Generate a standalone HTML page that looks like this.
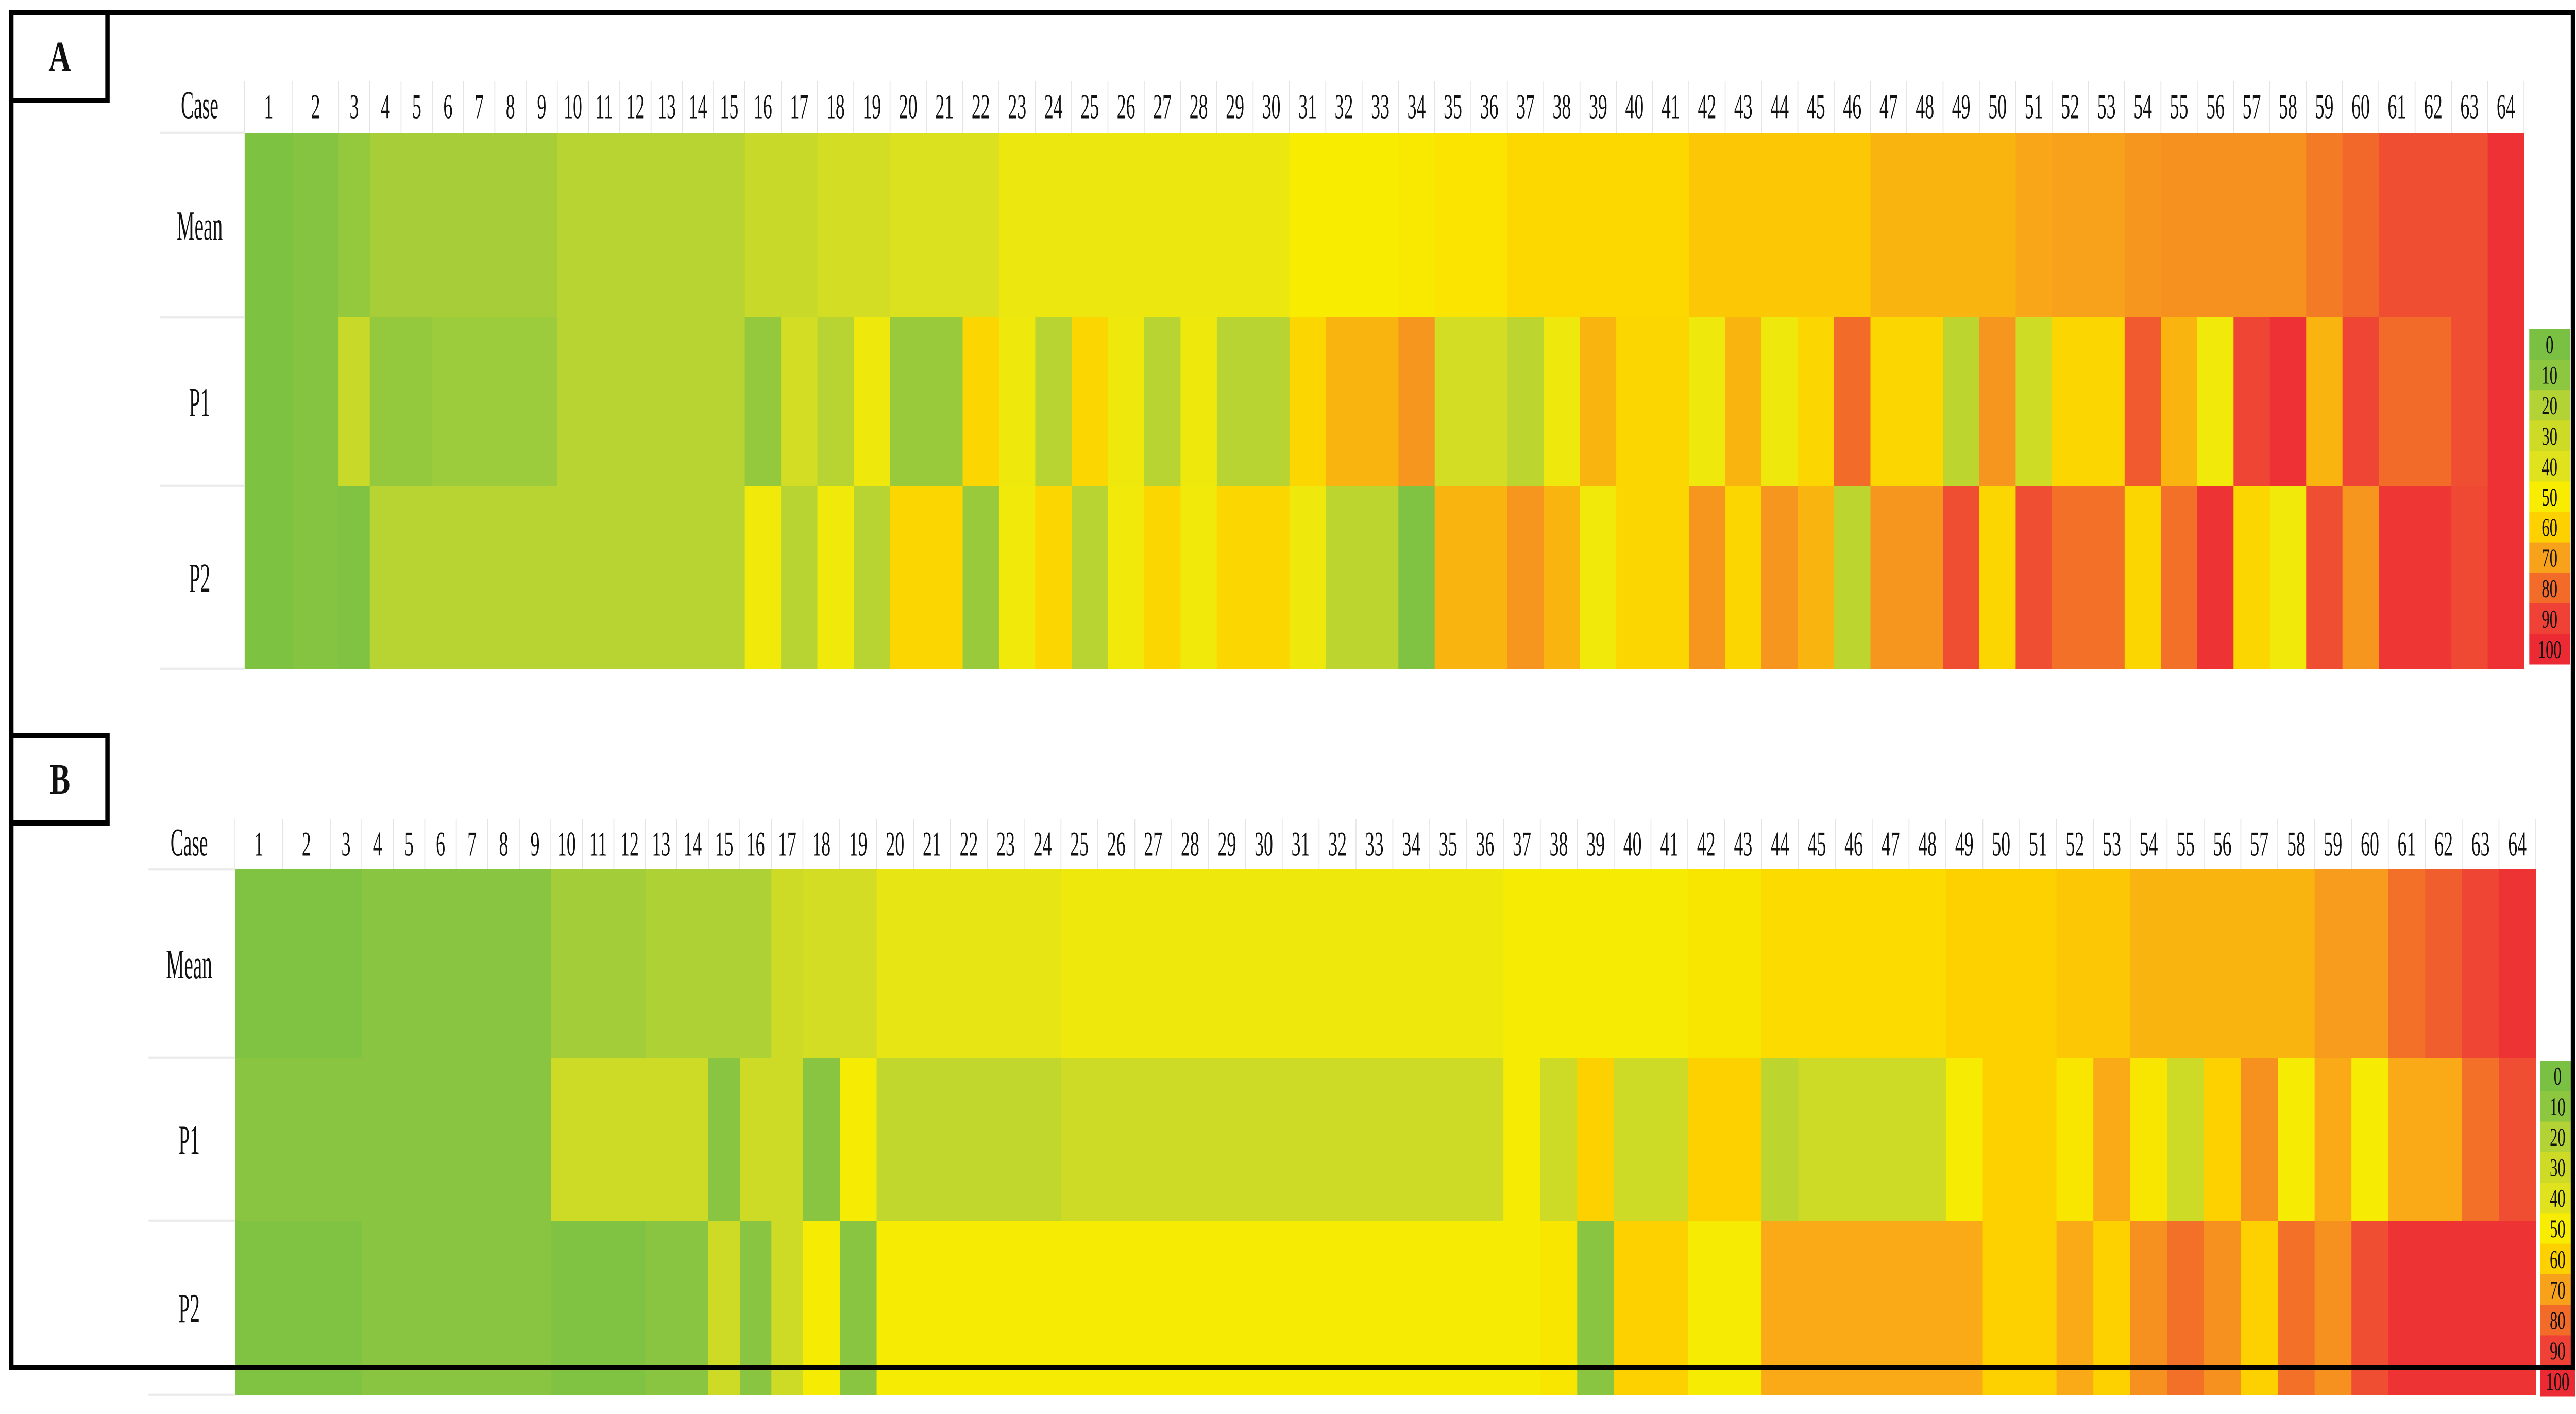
<!DOCTYPE html>
<html><head><meta charset="utf-8">
<style>
html,body{margin:0;padding:0;background:#fff;width:5897px;height:2744px;overflow:hidden;}
svg{display:block;width:100vw;height:100vh;}
text{font-family:"Liberation Serif",serif;fill:#111;}
</style></head>
<body>
<svg id="chart" viewBox="0 0 5897 2744" preserveAspectRatio="none" xmlns="http://www.w3.org/2000/svg">
<rect x="0" y="0" width="5897" height="2744" fill="#fff"/>
<g id="panels"></g>
<rect x="26" y="24" width="5864" height="2629" fill="none" stroke="#000" stroke-width="10"/>
<rect x="26" y="24" width="220" height="171" fill="#fff" stroke="#000" stroke-width="10"/>
<text x="137" y="138" font-size="84" font-weight="bold" text-anchor="middle" transform="translate(137 0) scale(0.85 1) translate(-137 0)">A</text>
<rect x="26" y="1427" width="220" height="170" fill="#fff" stroke="#000" stroke-width="10"/>
<text x="137" y="1540" font-size="84" font-weight="bold" text-anchor="middle" transform="translate(137 0) scale(0.85 1) translate(-137 0)">B</text>
</svg>
<script>
// ---- data ----
const cases = Array.from({length:64},(_,i)=>String(i+1));
const rowLabels = ["Mean","P1","P2"];
const legendTicks = [0,10,20,30,40,50,60,70,80,90,100];
const aMean = [2,5,12,17,17,17,17,17,17,22,22,22,22,22,22,28,28,33,33,38,38,38,45,45,45,45,45,45,45,45,50,50,50,51,53,53,57,57,57,57,57,62,62,62,62,62,66,66,66,66,69,70,70,72,73,73,73,73,77,81,87,87,87,97];
const aP1 = [2,5,28,12,12,14,14,14,14,22,22,22,22,22,22,12,33,22,46,13,13,58,46,22,58,46,22,46,22,22,58,66,66,72,33,33,24,46,66,58,58,46,66,46,58,80,58,58,24,72,31,58,58,84,66,47,89,97,66,89,80,80,87,97];
const aP2 = [2,5,3,22,22,22,22,22,22,22,22,22,22,22,22,47,22,47,22,58,58,13,47,58,22,47,58,47,58,58,46,24,24,3,66,66,72,66,47,58,58,72,58,72,66,24,72,72,87,58,87,79,79,58,79,96,58,47,87,72,95,95,88,97];
const bMean = [3,3,3,8,8,8,8,8,8,16,16,16,19,19,19,19,30,33,33,43,43,43,43,43,46,46,46,46,46,46,46,46,46,46,46,46,49,49,49,49,49,52,52,56,56,56,56,56,60,60,60,62,62,66,66,66,66,66,71,71,79,83,89,96];
const bP1 = [8,8,8,8,8,8,8,8,8,30,30,30,30,30,8,30,30,8,49,26,26,26,26,26,30,30,30,30,30,30,30,30,30,30,30,30,49,30,60,30,30,60,60,24,30,30,30,30,49,60,60,52,68,52,30,60,73,49,68,49,68,68,79,87];
const bP2 = [3,3,3,8,8,8,8,8,8,3,3,3,8,8,30,8,30,49,8,49,49,49,49,49,49,49,49,49,49,49,49,49,49,49,49,49,49,52,8,60,60,49,49,68,68,68,68,68,68,60,60,68,60,73,79,73,60,79,73,87,96,96,96,96];

// ---- colour scale ----
const stops = ["#7ac143","#8dc63f","#b2d235","#cddb27","#e0e21d","#f8ec00","#fdd000","#f8a11b","#f26b29","#ef4136","#ec2a33"];
function hex2rgb(h){return [parseInt(h.substr(1,2),16),parseInt(h.substr(3,2),16),parseInt(h.substr(5,2),16)];}
function color(v){
  v=Math.max(0,Math.min(100,v));
  const i=Math.min(9,Math.floor(v/10)), t=(v-i*10)/10;
  const a=hex2rgb(stops[i]), b=hex2rgb(stops[i+1]);
  return "rgb("+a.map((c,k)=>Math.round(c+(b[k]-c)*t)).join(",")+")";
}

const NS="http://www.w3.org/2000/svg";
const root=document.getElementById('panels');
function el(tag,attrs,parent){const e=document.createElementNS(NS,tag);for(const k in attrs)e.setAttribute(k,attrs[k]);(parent||root).appendChild(e);return e;}

function buildEdges(segs){
  const edges=[];
  segs.forEach(([s,e,n])=>{for(let i=0;i<n;i++)edges.push(s+(e-s)*i/n);});
  edges.push(segs[segs.length-1][1]);
  return edges;
}

function panel(cfg){
  const g=el('g',{});
  
  
  const xs=cfg.edges, ry=cfg.rows;
  const xScale=i=>xs[i];
  for(let i=0;i<xs.length;i++){
    const ln=el('line',{x1:xs[i],x2:xs[i],y1:ry[0],y2:ry[1],stroke:"#e4e4e4","stroke-width":2},g);
    
    
  }
  const hy=(ry[0]+ry[1])/2+22;
  const ch=el('text',{x:cfg.labelX,y:hy,"font-size":76,"text-anchor":"middle",transform:`translate(${cfg.labelX} 0) scale(0.58 1) translate(${-cfg.labelX} 0)`},g);
  ch.textContent="Case";
  
  
  cases.forEach((c,i)=>{
    const cx=(xScale(i)+xScale(i+1))/2;
    const t=el('text',{x:cx,y:hy,"font-size":68,"text-anchor":"middle",transform:`translate(${cx} 0) scale(0.62 1) translate(${-cx} 0)`},g);
    t.textContent=c;
    
    
  });
  cfg.series.forEach((vals,r)=>{
    vals.forEach((v,i)=>{
      const rc=el('rect',{x:xScale(i),y:ry[r+1],width:xScale(i+1)-xScale(i)+0.8,height:ry[r+2]-ry[r+1],fill:color(v)},g);
      
      
    });
    const cy=(ry[r+1]+ry[r+2])/2+28;
    const t=el('text',{x:cfg.labelX,y:cy,"font-size":80,"text-anchor":"middle",transform:`translate(${cfg.labelX} 0) scale(0.58 1) translate(${-cfg.labelX} 0)`},g);
    t.textContent=rowLabels[r];
    
    
  });
  for(let k=1;k<ry.length;k++){
    const ln=el('line',{x1:cfg.ruleX,x2:xs[0],y1:ry[k],y2:ry[k],stroke:"#ececec","stroke-width":5},g);
    
    
  }
  const lg=el('g',{},g);
  
  
  const n=legendTicks.length, lh=(cfg.legend[3]-cfg.legend[1])/n;
  legendTicks.forEach((v,i)=>{
    const rc=el('rect',{x:cfg.legend[0],y:cfg.legend[1]+i*lh,width:cfg.legend[2]-cfg.legend[0],height:lh+0.5,fill:stops[i]},lg);
    
    
    const cx=(cfg.legend[0]+cfg.legend[2])/2;
    const t=el('text',{x:cx,y:cfg.legend[1]+i*lh+lh/2+17,"font-size":50,"text-anchor":"middle",transform:`translate(${cx} 0) scale(0.72 1) translate(${-cx} 0)`},lg);
    t.textContent=String(v);
    
    
  });
}

panel({name:'panel-a-heatmap',
  edges:buildEdges([[560,670,1],[670,775,1],[775,1705,13],[1705,5778,49]]),
  rows:[157,258,616,943,1298],
  series:[aMean,aP1,aP2], labelX:457, ruleX:367,
  legend:[5790,639,5883,1289]});
panel({name:'panel-b-heatmap',
  edges:buildEdges([[538,647,1],[647,756,1],[756,1838,15],[1838,5805,47]]),
  rows:[1590,1687,2053,2369,2707],
  series:[bMean,bP1,bP2], labelX:433, ruleX:340,
  legend:[5815,2058,5895,2710]});
</script>
</body></html>
